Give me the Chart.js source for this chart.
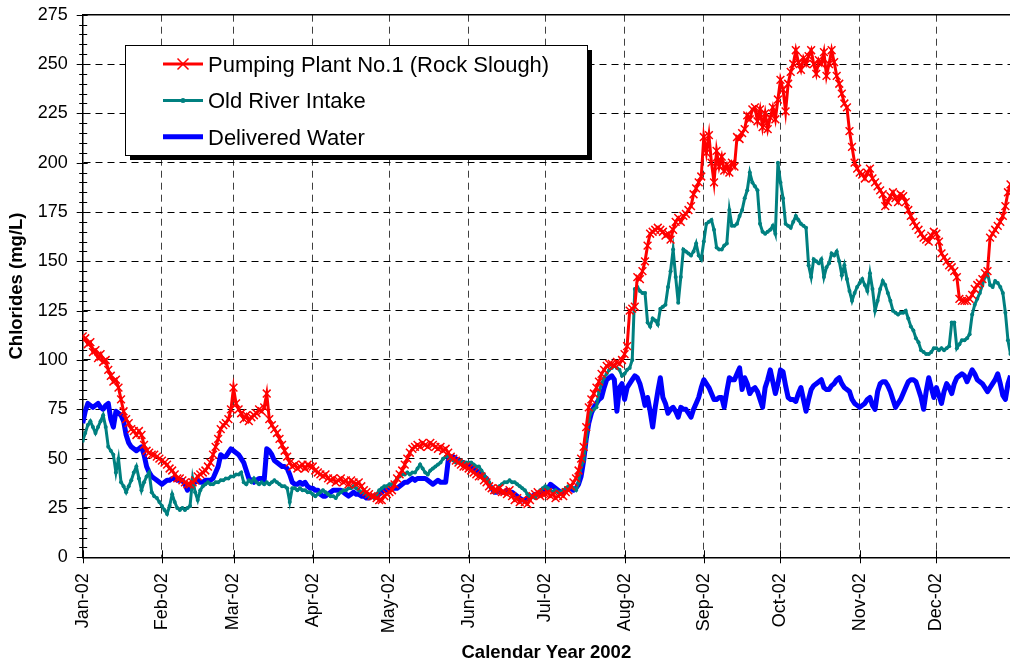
<!DOCTYPE html>
<html>
<head>
<meta charset="utf-8">
<title>Chlorides 2002</title>
<script src="https://cdn.jsdelivr.net/npm/chart.js@4/dist/chart.umd.min.js"></script>
<style>
  html, body { margin: 0; padding: 0; background: #fff; }
  #wrap { width: 1010px; height: 664px; }
</style>
</head>
<body>
<div id="wrap"><canvas id="chart" width="1010" height="664"></canvas></div>
<script>
// Month axis
const monthLabels = ['Jan-02', 'Feb-02', 'Mar-02', 'Apr-02', 'May-02', 'Jun-02',
                     'Jul-02', 'Aug-02', 'Sep-02', 'Oct-02', 'Nov-02', 'Dec-02'];
const monthStartDays = [0, 31, 59, 90, 120, 151, 181, 212, 243, 273, 304, 334];

// Daily chloride readings (mg/L), 1 Jan - 31 Dec 2002, one line per month
const pumpingPlant = [
  112,111,108,109,104,105,101,103,99,100,95,92,89,90,86,80,74,70,68,65,64,62,64,62,57,54,53,52,52,51,50,
  49,48,47,45,44,42,40,40,39,38,37,37,38,39,41,42,43,44,46,48,52,56,60,65,67,68,70,75,
  86,78,75,73,70,72,69,71,72,73,75,74,76,83,70,67,65,63,60,57,54,51,48,46,47,45,46,47,45,47,46,
  46,44,43,42,41,42,40,39,40,38,39,40,38,39,37,39,38,37,38,36,34,33,32,31,31,30,29,29,31,32,
  33,34,37,40,42,44,47,50,53,55,56,57,56,58,57,56,58,57,56,55,56,54,55,53,51,50,49,48,47,46,46,
  45,44,43,42,41,41,39,38,36,35,34,34,35,33,33,32,34,31,29,30,28,29,28,27,29,31,32,33,31,32,
  32,33,31,32,30,31,32,31,33,34,36,38,40,44,50,56,66,76,80,83,86,89,93,95,97,98,98,97,99,98,100,
  103,107,125,126,127,142,141,145,150,158,164,165,166,167,166,165,163,164,161,166,170,172,170,173,174,176,178,184,187,190,193,
  213,205,214,200,190,206,198,203,196,199,195,200,198,213,212,215,217,224,222,227,228,221,227,218,225,217,223,228,222,232,
  242,237,226,240,246,250,257,251,247,253,250,254,257,250,245,252,250,256,244,250,257,251,244,240,235,230,228,216,208,200,197,
  195,194,192,195,197,192,190,188,186,184,178,180,183,185,182,180,184,183,180,176,173,170,168,166,164,162,161,160,163,165,
  164,160,154,152,150,148,147,145,142,131,130,130,130,131,133,136,138,139,141,144,145,162,164,166,168,170,173,178,185,189,192
];

const oldRiverIntake = [
  59,63,67,69,66,63,66,69,72,66,56,54,52,43,50,38,36,33,36,39,43,46,40,34,38,41,43,33,31,30,28,
  26,24,22,26,32,28,25,24,25,24,25,26,40,33,29,34,36,37,38,37,37,38,38,39,39,40,40,41,
  41,42,42,43,38,37,39,38,40,38,37,38,37,38,37,38,39,38,37,36,36,35,28,35,35,34,35,34,34,33,33,
  32,31,32,33,34,33,32,31,31,30,32,33,34,34,35,35,36,35,34,33,33,32,31,31,30,32,34,35,36,36,
  37,37,38,40,41,42,42,43,42,43,43,45,47,45,43,42,44,45,46,47,48,50,51,52,50,49,48,48,49,48,48,
  48,48,47,46,46,44,42,40,38,35,33,34,36,37,38,38,39,38,38,37,36,35,34,32,31,31,30,32,34,35,
  36,35,34,33,34,33,33,34,35,36,36,35,34,38,46,49,60,70,74,75,76,84,88,91,93,95,96,97,96,95,92,
  93,95,96,100,136,137,135,134,134,119,117,121,120,118,126,127,128,137,145,156,142,129,142,156,155,154,153,155,159,153,151,
  160,169,170,171,166,157,156,156,158,159,176,168,168,169,173,176,182,186,195,190,188,186,169,165,164,165,166,168,164,200,
  190,182,169,168,167,170,173,171,169,168,167,148,142,151,150,149,151,142,147,149,154,153,155,150,143,148,141,135,130,134,137,
  139,141,138,135,144,136,125,130,136,140,138,134,130,125,124,123,124,124,125,121,117,115,111,109,105,104,103,103,104,106,
  106,105,106,105,106,107,119,119,106,108,110,110,111,113,123,128,131,134,138,142,144,138,137,140,139,137,134,124,110,103,100
];

const deliveredWater = [
  68,74,78,77,76,77,78,76,75,77,78,70,66,74,73,72,69,62,58,56,55,54,55,56,52,46,43,41,40,39,38,
  37,38,39,39,40,40,39,39,39,37,34,36,38,38,39,38,38,39,39,39,40,43,46,52,51,51,53,55,
  54,53,52,50,48,44,40,39,38,39,40,40,39,55,54,52,49,48,47,46,46,45,42,38,37,37,38,37,38,36,35,
  35,34,34,32,31,31,32,33,34,34,34,34,33,32,31,32,33,32,32,31,31,30,30,31,31,31,32,33,34,34,
  34,35,35,35,36,37,38,38,39,40,39,40,40,40,40,39,38,37,38,39,38,38,38,49,51,51,50,49,48,48,47,
  47,46,45,44,43,42,41,40,37,35,33,33,34,33,33,34,33,33,32,31,30,29,29,30,31,31,32,32,33,34,
  34,35,37,36,35,34,33,33,34,35,35,34,35,37,41,49,60,68,73,76,78,80,81,86,90,91,92,90,74,86,88,
  80,86,88,90,92,91,88,83,77,81,74,66,76,84,91,81,78,73,75,76,74,71,76,75,75,73,71,75,78,81,86,
  90,88,86,83,80,80,81,81,76,84,91,90,90,93,96,85,91,88,83,85,86,84,80,76,86,90,95,89,83,88,
  95,94,87,81,80,80,79,83,86,80,74,80,85,87,88,89,90,86,85,85,87,88,90,91,88,86,85,84,80,78,77,
  76,77,78,80,81,77,75,84,88,89,89,87,84,80,76,78,80,83,86,89,90,90,89,85,81,75,84,91,86,81,
  86,82,78,84,88,86,83,88,91,92,93,92,89,92,95,93,90,89,88,86,84,86,88,90,93,88,82,80,88,92,90
];

const seriesNames = ['Pumping Plant No.1 (Rock Slough)', 'Old River Intake', 'Delivered Water'];

const FONT = "'Liberation Sans', Arial, Helvetica, sans-serif";
const toPoints = arr => arr.map((v, i) => ({ x: i, y: v }));

// Axis frame: top edge plus the small crossing tick marks
const framePlugin = {
  id: 'frame',
  beforeDatasetsDraw(chart) {
    const { ctx, chartArea: a, scales: { x, y } } = chart;
    ctx.save();
    ctx.strokeStyle = '#000';
    ctx.lineWidth = 1.5;
    ctx.beginPath();
    ctx.moveTo(a.left, a.top);
    ctx.lineTo(a.right, a.top);
    ctx.stroke();
    ctx.lineWidth = 1;
    ctx.beginPath();
    for (let v = y.min; v <= y.max; v += 5) {
      const py = Math.round(y.getPixelForValue(v)) + 0.5;
      const major = v % 25 === 0;
      ctx.moveTo(a.left - (major ? 6 : 3.5), py);
      ctx.lineTo(a.left + (major ? 5 : 4.5), py);
    }
    monthStartDays.forEach(d => {
      const px = Math.round(x.getPixelForValue(d)) + 0.5;
      ctx.moveTo(px, a.bottom - 7);
      ctx.lineTo(px, a.bottom + 6);
    });
    ctx.stroke();
    ctx.restore();
  }
};

// Boxed legend with drop shadow
const legendPlugin = {
  id: 'boxLegend',
  afterDraw(chart) {
    const ctx = chart.ctx;
    const bx = 125, by = 45, bw = 462, bh = 110;
    ctx.save();
    ctx.fillStyle = '#000';
    ctx.fillRect(bx + 5, by + 5, bw, bh);
    ctx.fillStyle = '#fff';
    ctx.fillRect(bx, by, bw, bh);
    ctx.strokeStyle = '#000';
    ctx.lineWidth = 1;
    ctx.strokeRect(bx + 0.5, by + 0.5, bw, bh);
    chart.data.datasets.forEach((ds, i) => {
      const yy = by + 19 + i * 36.4;
      ctx.strokeStyle = ds.borderColor;
      ctx.lineWidth = ds.borderWidth;
      ctx.lineCap = 'butt';
      ctx.beginPath();
      ctx.moveTo(163, yy);
      ctx.lineTo(203, yy);
      ctx.stroke();
      if (ds.pointStyle === 'crossRot') {
        const r = ds.pointRadius;
        ctx.lineWidth = ds.pointBorderWidth;
        ctx.strokeStyle = ds.pointBorderColor;
        ctx.beginPath();
        ctx.moveTo(183 - r, yy - r); ctx.lineTo(183 + r, yy + r);
        ctx.moveTo(183 - r, yy + r); ctx.lineTo(183 + r, yy - r);
        ctx.stroke();
      } else if (ds.pointRadius > 0) {
        ctx.fillStyle = ds.pointBackgroundColor;
        ctx.beginPath();
        ctx.arc(183, yy, ds.pointRadius + 0.5, 0, Math.PI * 2);
        ctx.fill();
      }
      ctx.fillStyle = '#000';
      ctx.font = '22px ' + FONT;
      ctx.textBaseline = 'alphabetic';
      ctx.textAlign = 'left';
      ctx.fillText(ds.label, 208, yy + 7.7);
    });
    ctx.restore();
  }
};

new Chart(document.getElementById('chart'), {
  type: 'line',
  data: {
    datasets: [
      {
        label: seriesNames[0],
        data: toPoints(pumpingPlant),
        borderColor: '#ff0000',
        borderWidth: 3,
        pointStyle: 'crossRot',
        pointRadius: 5.5,
        pointBorderWidth: 1.5,
        pointBorderColor: '#ff0000',
        pointBackgroundColor: '#ff0000'
      },
      {
        label: seriesNames[1],
        data: toPoints(oldRiverIntake),
        borderColor: '#008080',
        borderWidth: 3,
        pointStyle: 'circle',
        pointRadius: 2,
        pointBorderWidth: 0,
        pointBorderColor: '#008080',
        pointBackgroundColor: '#008080'
      },
      {
        label: seriesNames[2],
        data: toPoints(deliveredWater),
        borderColor: '#0000ff',
        borderWidth: 5,
        pointRadius: 0,
        borderJoinStyle: 'round'
      }
    ]
  },
  options: {
    responsive: false,
    animation: false,
    devicePixelRatio: 1,
    layout: { autoPadding: false, padding: { top: 14.7, right: 0, bottom: 0, left: 0 } },
    plugins: { legend: { display: false }, tooltip: { enabled: false } },
    elements: { line: { tension: 0 } },
    scales: {
      x: {
        type: 'linear',
        min: 0,
        max: 362.8,
        afterBuildTicks: scale => { scale.ticks = monthStartDays.map(v => ({ value: v })); },
        afterFit: scale => {
          scale.height = 106.7;
          scale.paddingLeft = 0;
          scale.paddingRight = 0;
        },
        ticks: {
          autoSkip: false,
          minRotation: 90,
          maxRotation: 90,
          padding: 16,
          color: '#000',
          font: { family: FONT, size: 18 },
          callback: (value, index) => monthLabels[index]
        },
        grid: { color: '#404040', lineWidth: 1, drawTicks: false },
        border: { display: true, color: '#000', width: 1.5, dash: [7, 5] },
        title: {
          display: true,
          text: 'Calendar Year 2002',
          color: '#000',
          font: { family: FONT, size: 18.5, weight: 'bold' },
          padding: { top: 0, bottom: 0 }
        }
      },
      y: {
        min: 0,
        max: 275,
        afterFit: scale => {
          scale.width = 82.7;
          scale.paddingTop = 0;
          scale.paddingBottom = 0;
        },
        ticks: {
          stepSize: 25,
          padding: 15,
          color: '#000',
          font: { family: FONT, size: 18 }
        },
        grid: { color: '#000', lineWidth: 1, drawTicks: false },
        border: { display: true, color: '#000', width: 1.5, dash: [7, 5] },
        title: {
          display: true,
          text: 'Chlorides (mg/L)',
          color: '#000',
          font: { family: FONT, size: 18.5, weight: 'bold' },
          padding: { top: 6, bottom: 0 }
        }
      }
    }
  },
  plugins: [framePlugin, legendPlugin]
});
</script>
</body>
</html>
